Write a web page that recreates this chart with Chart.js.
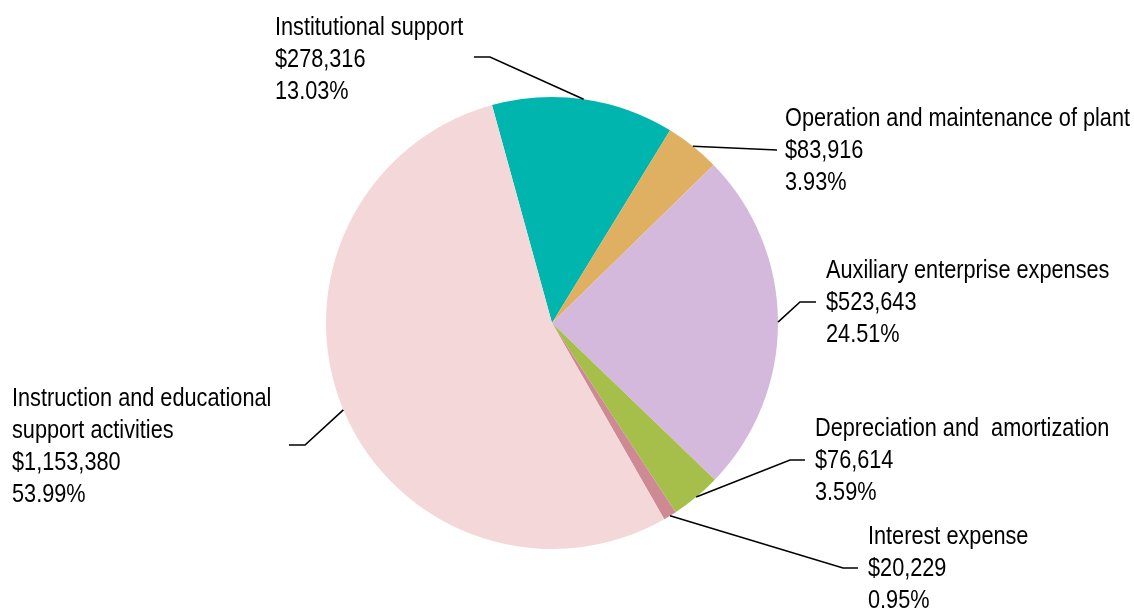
<!DOCTYPE html>
<html>
<head>
<meta charset="utf-8">
<script src="https://cdn.jsdelivr.net/npm/chart.js@4.4.1/dist/chart.umd.min.js"></script>
<style>
  html, body { margin: 0; padding: 0; background: #fff; }
  #wrap { width: 1134px; height: 609px; position: relative; }
</style>
</head>
<body>
<div id="wrap"><canvas id="pieCanvas"></canvas></div>
<script>
// data
const categories = [
  ["Institutional support"],
  ["Operation and maintenance of plant"],
  ["Auxiliary enterprise expenses"],
  ["Depreciation and  amortization"],
  ["Interest expense"],
  ["Instruction and educational", "support activities"]
];
const amounts = [278316, 83916, 523643, 76614, 20229, 1153380];
const amountLabels = ["$278,316", "$83,916", "$523,643", "$76,614", "$20,229", "$1,153,380"];
const percentLabels = ["13.03%", "3.93%", "24.51%", "3.59%", "0.95%", "53.99%"];
const sliceColors = ["#00B5AD", "#E0B062", "#D4B9DD", "#A5BF4A", "#CE8A94", "#F4D7D8"];

// where each callout sits: text x / first baseline, leader elbow and end
const callouts = [
  { tx: 275, ty: 35,  elbow: [490, 57],  end: [474, 57] },
  { tx: 785, ty: 126, elbow: [777, 150], end: [777, 150] },
  { tx: 826, ty: 278, elbow: [800, 302], end: [816, 302] },
  { tx: 815, ty: 436, elbow: [790, 460], end: [805, 460] },
  { tx: 868, ty: 544, elbow: [843, 568], end: [858, 568] },
  { tx: 12,  ty: 406, elbow: [305, 445], end: [289, 445] }
];
const lineHeight = 32;
const labelFont = '26px "Liberation Sans Narrow", "Arial Narrow", "Liberation Sans", Arial, sans-serif';

const calloutPlugin = {
  id: "callouts",
  afterDraw(chart) {
    const ctx = chart.ctx;
    const arcs = chart.getDatasetMeta(0).data;
    ctx.save();
    ctx.font = labelFont;
    // squeeze if the narrow face is missing
    const w = ctx.measureText("Operation and maintenance of plant").width;
    const sx = w > 380 ? 345 / w : 1;

    arcs.forEach((arc, i) => {
      const p = arc.getProps(["x", "y", "startAngle", "endAngle", "outerRadius"], true);
      const mid = (p.startAngle + p.endAngle) / 2;
      const ax = p.x + Math.cos(mid) * p.outerRadius;
      const ay = p.y + Math.sin(mid) * p.outerRadius;
      const c = callouts[i];

      ctx.strokeStyle = "#000";
      ctx.lineWidth = 1.6;
      ctx.beginPath();
      ctx.moveTo(ax, ay);
      ctx.lineTo(c.elbow[0], c.elbow[1]);
      ctx.lineTo(c.end[0], c.end[1]);
      ctx.stroke();

      const lines = categories[i].concat([amountLabels[i], percentLabels[i]]);
      ctx.fillStyle = "#000";
      ctx.textBaseline = "alphabetic";
      ctx.textAlign = "left";
      lines.forEach((t, k) => {
        ctx.save();
        ctx.translate(c.tx, c.ty + k * lineHeight);
        ctx.scale(sx, 1);
        ctx.fillText(t, 0, 0);
        ctx.restore();
      });
    });
    ctx.restore();
  }
};

new Chart(document.getElementById("pieCanvas").getContext("2d"), {
  type: "pie",
  data: {
    labels: categories.map(c => c.join(" ")),
    datasets: [{
      data: amounts,
      backgroundColor: sliceColors,
      borderWidth: 0
    }]
  },
  options: {
    responsive: true,
    maintainAspectRatio: false,
    animation: false,
    rotation: -15.4,
    layout: { padding: { top: 97, bottom: 60, left: 326, right: 356 } },
    plugins: {
      legend: { display: false },
      tooltip: { enabled: false }
    }
  },
  plugins: [calloutPlugin]
});
</script>
</body>
</html>
